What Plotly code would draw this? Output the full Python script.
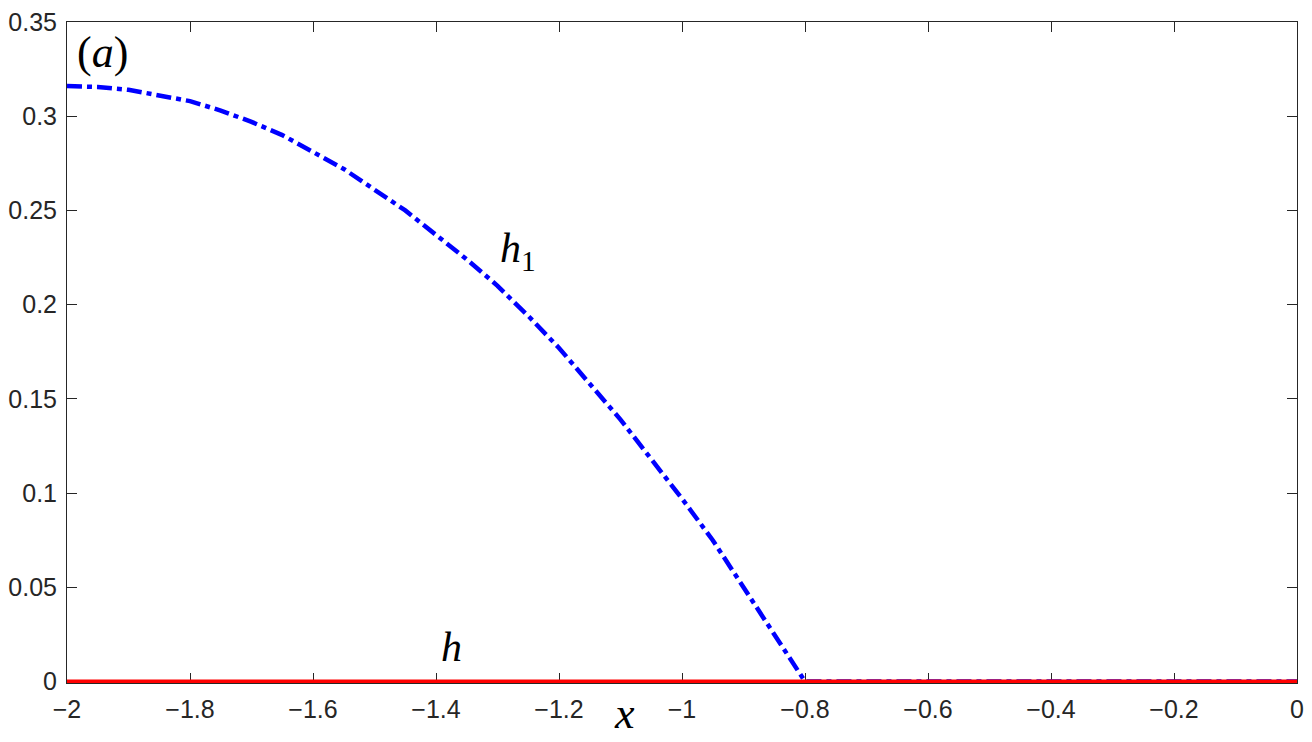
import plotly.graph_objects as go

# h1 curve (blue dash-dot)
x_h1 = [-2.00, -1.95, -1.90, -1.85, -1.80, -1.75, -1.70, -1.65, -1.60, -1.55,
        -1.50, -1.45, -1.40, -1.35, -1.30, -1.25, -1.20, -1.15, -1.10, -1.05,
        -1.00, -0.95, -0.90, -0.85, -0.80, -0.40, 0.00]
y_h1 = [0.316, 0.3155, 0.314, 0.311, 0.308, 0.303, 0.297, 0.290, 0.281, 0.272,
        0.261, 0.250, 0.237, 0.224, 0.210, 0.194, 0.177, 0.158, 0.139, 0.118,
        0.097, 0.075, 0.050, 0.026, 0.000, 0.000, 0.000]

# h curve (red solid)
x_h = [-2.0, 0.0]
y_h = [0.0, 0.0]

x_ticks = [-2, -1.8, -1.6, -1.4, -1.2, -1, -0.8, -0.6, -0.4, -0.2, 0]
x_ticktext = ["\u22122", "\u22121.8", "\u22121.6", "\u22121.4", "\u22121.2", "\u22121",
              "\u22120.8", "\u22120.6", "\u22120.4", "\u22120.2", "0"]
y_ticks = [0, 0.05, 0.1, 0.15, 0.2, 0.25, 0.3, 0.35]
y_ticktext = ["0", "0.05", "0.1", "0.15", "0.2", "0.25", "0.3", "0.35"]

fig = go.Figure()
fig.add_trace(go.Scatter(x=x_h1, y=y_h1, mode="lines",
                         line=dict(color="#0000ff", width=4.5, dash="15px,5px,5px,5px"),
                         showlegend=False, hoverinfo="skip"))
fig.add_trace(go.Scatter(x=x_h, y=y_h, mode="lines",
                         line=dict(color="#ff0000", width=4),
                         showlegend=False, hoverinfo="skip"))

axis_common = dict(showgrid=False, zeroline=False, showline=True, linecolor="#262626",
                   linewidth=1, mirror="ticks", ticks="inside", ticklen=10, tickwidth=1,
                   tickcolor="#262626", layer="below traces", ticklabeloverflow="allow",
                   tickfont=dict(family="Liberation Sans, Arial", size=25, color="#262626"))

fig.update_xaxes(range=[-2, 0], tickvals=x_ticks, ticktext=x_ticktext,
                 ticklabelstandoff=4, **axis_common)
fig.update_yaxes(range=[-0.0008, 0.35], tickvals=y_ticks, ticktext=y_ticktext,
                 ticklabelstandoff=4, **axis_common)

serif = "Liberation Serif, DejaVu Serif, serif"
fig.add_annotation(x=-1.942, y=0.334, xref="x", yref="y", text="(<i>a</i>)",
                   showarrow=False, font=dict(family=serif, size=44, color="black"))
fig.add_annotation(x=-1.266, y=0.2285, xref="x", yref="y", text="<i>h</i><sub>1</sub>",
                   showarrow=False, font=dict(family=serif, size=42, color="black"))
fig.add_annotation(x=-1.375, y=0.0185, xref="x", yref="y", text="<i>h</i>",
                   showarrow=False, font=dict(family=serif, size=42, color="black"))
fig.add_annotation(x=(628 - 67) / 1237, y=-0.046, xref="paper", yref="paper", text="<i>x</i>",
                   yanchor="middle", xanchor="center",
                   showarrow=False, font=dict(family=serif, size=44, color="black"))

fig.update_layout(width=1312, height=742, plot_bgcolor="white", paper_bgcolor="white",
                  margin=dict(l=67, r=8, t=13, b=59))

fig.write_html("out.html", config={"displayModeBar": False},
               post_script="document.body.style.margin='0';document.body.style.overflow='hidden';")
